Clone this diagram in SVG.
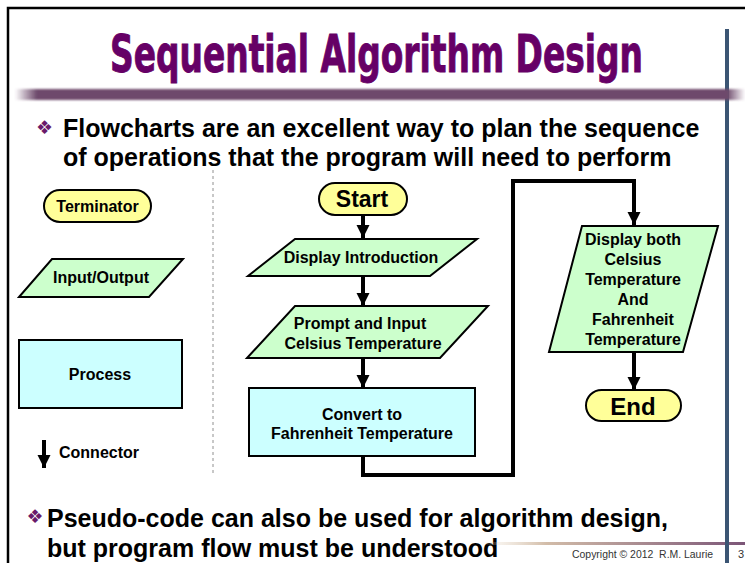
<svg xmlns="http://www.w3.org/2000/svg" width="745" height="563" viewBox="0 0 745 563">
  <defs>
    <style>
      .node-text { font-family: "Liberation Sans", Arial, sans-serif; font-weight: bold; fill: #000; text-anchor: middle; }
      .body-text { font-family: "Liberation Sans", Arial, sans-serif; font-weight: bold; font-size: 25px; fill: #000; }
      .bullet { font-family: "DejaVu Sans", sans-serif; font-size: 19px; fill: #6a1a6a; text-anchor: middle; }
      .terminator { fill: #ffff99; stroke: #000; stroke-width: 2; }
      .io { fill: #ccffcc; stroke: #000; stroke-width: 2; }
      .process { fill: #ccffff; stroke: #000; stroke-width: 2; }
      .flow { fill: none; stroke: #000; stroke-width: 4; stroke-linejoin: miter; }
      .footer { font-family: "Liberation Sans", Arial, sans-serif; font-size: 11px; fill: #333; }
    </style>
    <marker id="arrowhead" markerUnits="userSpaceOnUse" markerWidth="14" markerHeight="14" refX="13" refY="6.5" orient="auto">
      <path d="M0,0 L13,6.5 L0,13 Z" fill="#000"/>
    </marker>
    <linearGradient id="titleBar" x1="15" y1="0" x2="745" y2="0" gradientUnits="userSpaceOnUse">
      <stop offset="0" stop-color="#6e4a6c" stop-opacity="0"/>
      <stop offset="0.03" stop-color="#6e4a6c" stop-opacity="1"/>
      <stop offset="0.975" stop-color="#6e4a6c" stop-opacity="1"/>
      <stop offset="1" stop-color="#6e4a6c" stop-opacity="0"/>
    </linearGradient>
    <linearGradient id="footerBar" x1="480" y1="0" x2="745" y2="0" gradientUnits="userSpaceOnUse">
      <stop offset="0" stop-color="#e6d8c4" stop-opacity="0"/>
      <stop offset="0.25" stop-color="#d2bca8"/>
      <stop offset="1" stop-color="#7b5577"/>
    </linearGradient>
    <filter id="soft" x="-2%" y="-50%" width="104%" height="200%">
      <feGaussianBlur stdDeviation="0.8"/>
    </filter>
  </defs>

  <!-- slide frame -->
  <rect width="745" height="563" fill="#fff"/>
  <path d="M8,563 V8 H745" fill="none" stroke="#000" stroke-width="2.5"/>
  <line x1="727" y1="29" x2="727" y2="563" stroke="#3b5573" stroke-width="4"/>

  <!-- title: condensed heavy face, squeezed horizontally -->
  <g transform="translate(110,72) scale(0.63,1)">
    <text x="0" y="0" textLength="846" lengthAdjust="spacingAndGlyphs"
          font-family="'DejaVu Sans Condensed', 'Liberation Sans', sans-serif" font-weight="bold" font-size="51"
          fill="#660066" stroke="#660066" stroke-width="0.9">Sequential Algorithm Design</text>
  </g>
  <rect x="15" y="89" width="730" height="11" fill="url(#titleBar)" filter="url(#soft)"/>

  <!-- top bullet -->
  <text class="bullet" x="44.5" y="134">❖</text>
  <text class="body-text" x="63" y="137">Flowcharts are an excellent way to plan the sequence</text>
  <text class="body-text" x="63" y="166">of operations that the program will need to perform</text>

  <!-- legend divider -->
  <line x1="213" y1="170" x2="213" y2="473" stroke="#909090" stroke-width="1" stroke-dasharray="3,3"/>

  <!-- legend -->
  <g id="legend-terminator">
    <rect class="terminator" x="44" y="190" width="107" height="32" rx="16" ry="16"/>
    <text class="node-text" x="97.5" y="212" font-size="16">Terminator</text>
  </g>
  <g id="legend-io">
    <polygon class="io" points="52,259 183,259 149,297 19,297"/>
    <text class="node-text" x="101" y="283" font-size="16">Input/Output</text>
  </g>
  <g id="legend-process">
    <rect class="process" x="19" y="340" width="163" height="68"/>
    <text class="node-text" x="100" y="380" font-size="16">Process</text>
  </g>
  <g id="legend-connector">
    <text class="node-text" x="59" y="458" font-size="16" style="text-anchor:start">Connector</text>
  </g>

  <!-- flowchart nodes -->
  <g id="start">
    <rect class="terminator" x="319" y="183" width="88" height="32" rx="16" ry="16"/>
    <text class="node-text" x="362" y="207" font-size="23">Start</text>
  </g>
  <g id="display-intro">
    <polygon class="io" points="295,239 477,239 430,276 248,276"/>
    <text class="node-text" x="361" y="263" font-size="16">Display Introduction</text>
  </g>
  <g id="prompt-input">
    <polygon class="io" points="295,306 488,306 440,358 247,358"/>
    <text class="node-text" x="360" y="329" font-size="16">Prompt and Input</text>
    <text class="node-text" x="363" y="349" font-size="16">Celsius Temperature</text>
  </g>
  <g id="convert">
    <rect class="process" x="249" y="388" width="226" height="68"/>
    <text class="node-text" x="362" y="420" font-size="16">Convert to</text>
    <text class="node-text" x="362" y="439" font-size="16">Fahrenheit Temperature</text>
  </g>
  <g id="display-both">
    <polygon class="io" points="582,226 718,226 683,352 549,352"/>
    <text class="node-text" x="633" y="245" font-size="16">Display both</text>
    <text class="node-text" x="633" y="265" font-size="16">Celsius</text>
    <text class="node-text" x="633" y="285" font-size="16">Temperature</text>
    <text class="node-text" x="633" y="305" font-size="16">And</text>
    <text class="node-text" x="633" y="325" font-size="16">Fahrenheit</text>
    <text class="node-text" x="633" y="345" font-size="16">Temperature</text>
  </g>
  <g id="end">
    <rect class="terminator" x="586" y="390" width="95" height="31" rx="15.5" ry="15.5"/>
    <text class="node-text" x="633" y="415" font-size="24">End</text>
  </g>

  <!-- connectors -->
  <g id="connectors">
    <line class="flow" x1="44" y1="440" x2="44" y2="468" marker-end="url(#arrowhead)"/>
    <line class="flow" x1="363" y1="215" x2="363" y2="238" marker-end="url(#arrowhead)"/>
    <line class="flow" x1="363" y1="276" x2="363" y2="306" marker-end="url(#arrowhead)"/>
    <line class="flow" x1="363" y1="358" x2="363" y2="388" marker-end="url(#arrowhead)"/>
    <path class="flow" d="M363,456 V475 H513 V181 H634 V225" marker-end="url(#arrowhead)"/>
    <line class="flow" x1="634" y1="352" x2="634" y2="390" marker-end="url(#arrowhead)"/>
  </g>

  <!-- bottom bullet -->
  <text class="bullet" x="35" y="523">❖</text>
  <text class="body-text" x="47" y="527">Pseudo-code can also be used for algorithm design,</text>
  <text class="body-text" x="47" y="557">but program flow must be understood</text>

  <!-- footer -->
  <rect x="480" y="542" width="265" height="3" fill="url(#footerBar)"/>
  <line x1="727" y1="540" x2="727" y2="563" stroke="#3b5573" stroke-width="4"/>
  <text class="footer" x="572" y="558" textLength="141" lengthAdjust="spacingAndGlyphs" xml:space="preserve">Copyright © 2012  R.M. Laurie</text>
  <text class="footer" x="738" y="558">3</text>
</svg>
